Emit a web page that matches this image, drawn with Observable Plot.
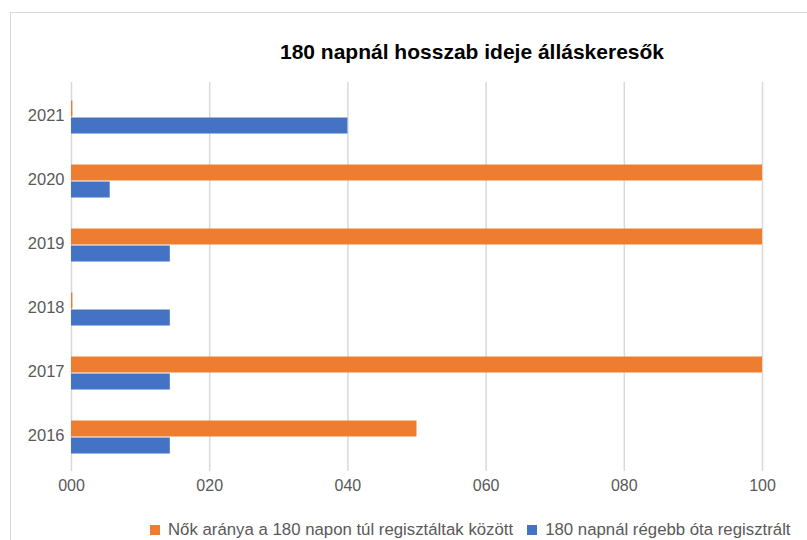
<!DOCTYPE html>
<html>
<head>
<meta charset="utf-8">
<script src="https://cdn.jsdelivr.net/npm/d3@7"></script>
<script src="https://cdn.jsdelivr.net/npm/@observablehq/plot@0.6"></script>
<style>
  html, body { margin: 0; padding: 0; background: #fff; }
  #wrap { position: relative; width: 807px; height: 540px; overflow: hidden; font-family: "Liberation Sans", Arial, sans-serif; }
  #frame { position: absolute; left: 10px; top: 12px; width: 900px; height: 600px; border: 1px solid #d9d9d9; box-sizing: border-box; }
  #title { position: relative; height: 72px; box-sizing: border-box; padding-top: 39px; padding-left: 137px; text-align: center; font-size: 21px; line-height: 25px; font-weight: bold; color: #000; white-space: nowrap; }
  #chart { position: relative; height: 430px; }
  #legend { position: relative; height: 38px; box-sizing: border-box; padding-top: 18px; padding-left: 150px; display: flex; align-items: center; font-size: 16.8px; line-height: 20px; color: #595959; white-space: nowrap; }
  .sw { display: inline-block; width: 10px; height: 10px; margin-right: 8px; }
  .item { display: flex; align-items: center; margin-right: 14px; }
</style>
</head>
<body>
<div id="wrap">
  <div id="frame"></div>
  <div id="title">180 napnál hosszab ideje álláskeresők</div>
  <div id="chart"></div>
  <div id="legend"></div>
</div>
<script>
const years = ["2016", "2017", "2018", "2019", "2020", "2021"];
const womenShare = [50, 100, 0.2, 100, 100, 0.2];
const longTerm = [14.3, 14.3, 14.3, 14.3, 5.6, 40];
const xTicks = [0, 20, 40, 60, 80, 100];
const seriesNames = ["Nők aránya a 180 napon túl regisztáltak között", "180 napnál régebb óta regisztrált"];
const seriesColors = ["#ED7D31", "#4472C4"];

const orangeData = years.map((y, i) => ({year: y, v: womenShare[i]}));
const blueData = years.map((y, i) => ({year: y, v: longTerm[i]}));

const chart = Plot.plot({
  width: 807,
  height: 430,
  marginTop: 10,
  marginBottom: 31,
  marginLeft: 71,
  marginRight: 45,
  style: {fontFamily: "Liberation Sans, Arial, sans-serif", fontSize: "16px", color: "#595959", background: "transparent"},
  x: {domain: [0, 100], label: null},
  y: {domain: years.slice().reverse(), padding: 0, label: null},
  marks: [
    Plot.ruleX(xTicks, {stroke: "#d9d9d9", strokeWidth: 1.5}),
    Plot.barX(orangeData, {x: "v", y: "year", fill: seriesColors[0], insetTop: 15.5, insetBottom: 32.5}),
    Plot.barX(blueData, {x: "v", y: "year", fill: seriesColors[1], insetTop: 32.5, insetBottom: 15.5}),
    Plot.axisX({ticks: xTicks, tickFormat: d => String(d).padStart(3, "0"), tickSize: 0, tickPadding: 8, fill: "#595959", fontSize: 16, label: null}),
    Plot.axisY({tickSize: 0, tickPadding: 7, fill: "#595959", fontSize: 16.5, dy: -2, label: null})
  ]
});
document.getElementById("chart").appendChild(chart);

const legend = document.getElementById("legend");
seriesNames.forEach((name, i) => {
  const item = document.createElement("span");
  item.className = "item";
  const sw = document.createElement("span");
  sw.className = "sw";
  sw.style.background = seriesColors[i];
  item.appendChild(sw);
  item.appendChild(document.createTextNode(name));
  legend.appendChild(item);
});
</script>
</body>
</html>
